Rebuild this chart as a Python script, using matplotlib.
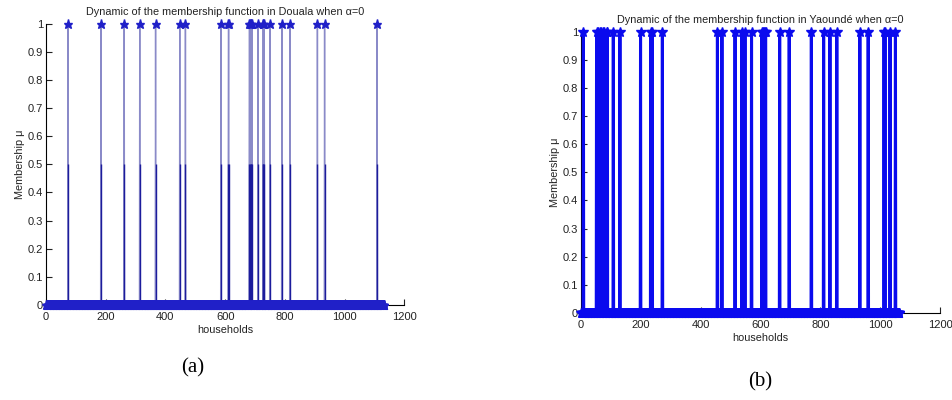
import numpy as np
import matplotlib
matplotlib.use("Agg")
import matplotlib.pyplot as plt

# households in each survey
n_douala = 1133
n_yaounde = 1064

# households whose membership is 1 (all others are 0)
douala_ones = [74, 184, 262, 314, 367, 448, 467, 586, 611, 612, 681, 682, 685,
               686, 690, 710, 727, 728, 731, 750, 790, 817, 909, 933, 1109]
yaounde_ones = [8, 52, 56, 64, 67, 75, 78, 86, 88, 108, 130, 199, 233, 238, 272,
                456, 471, 515, 538, 548, 570, 605, 608, 611, 614, 617, 664, 696,
                770, 811, 832, 855, 932, 960, 1013, 1016, 1033, 1051]

x_ticks = [0, 200, 400, 600, 800, 1000, 1200]
y_ticks = [0, 0.1, 0.2, 0.3, 0.4, 0.5, 0.6, 0.7, 0.8, 0.9, 1]
y_ticklabels = ["0", "0.1", "0.2", "0.3", "0.4", "0.5", "0.6", "0.7", "0.8", "0.9", "1"]

titles = ["Dynamic of the membership function in Douala when \u03b1=0",
          "Dynamic of the membership function in Yaound\u00e9 when \u03b1=0"]
panel_tags = ["(a)", "(b)"]

plt.rcParams['font.family'] = ['Liberation Sans', 'DejaVu Sans']


def membership(n, ones):
    h = np.arange(1, n + 1)
    mu = np.zeros(n)
    mu[np.array(ones) - 1] = 1.0
    return h, mu


def style_axes(ax, title, title_pad):
    ax.set_xlim(0, 1200)
    ax.set_ylim(0, 1)
    ax.set_xticks(x_ticks)
    ax.set_yticks(y_ticks)
    ax.set_yticklabels(y_ticklabels)
    ax.spines['top'].set_visible(False)
    ax.spines['right'].set_visible(False)
    ax.spines['left'].set_linewidth(0.8)
    ax.spines['bottom'].set_linewidth(0.8)
    ax.tick_params(direction='in', length=4, width=0.8, labelsize=8,
                   colors='#222222', pad=2)
    ax.tick_params(axis='x', pad=5)
    ax.set_title(title, fontsize=7.8, color='#222222', pad=title_pad)
    ax.set_xlabel("households", fontsize=7.8, color='#222222', labelpad=2)
    ax.set_ylabel("Membership \u03bc", fontsize=7.8, color='#222222', labelpad=2)


fig = plt.figure(figsize=(9.52, 4.0), dpi=100)

# (a) Douala
ax1 = fig.add_axes([0.0483, 0.2375, 0.3764, 0.7033])
h, mu = membership(n_douala, douala_ones)
ax1.plot(h, mu, '-', color='#8a8ac8', linewidth=1.0, zorder=2, clip_on=False)
ax1.vlines(douala_ones, 0, 0.5, color='#1c1c9c', linewidth=1.0, zorder=3)
ax1.plot(h, mu, linestyle='none', marker='*', markersize=6.5,
         color='#2020c8', zorder=4, clip_on=False)
style_axes(ax1, titles[0], 6)

# (b) Yaounde
ax2 = fig.add_axes([0.6103, 0.2175, 0.3771, 0.7033])
h, mu = membership(n_yaounde, yaounde_ones)
ax2.plot(h, mu, '-*', color='#0a0aee', linewidth=2.2, markersize=7,
         zorder=3, clip_on=False)
style_axes(ax2, titles[1], 6)

fig.text(193 / 952, 1 - 368 / 400, panel_tags[0], fontsize=15,
         family='Liberation Serif', ha='center', va='center')
fig.text(760 / 952, 1 - 382 / 400, panel_tags[1], fontsize=15,
         family='Liberation Serif', ha='center', va='center')

fig.savefig("out.png", dpi=100)
